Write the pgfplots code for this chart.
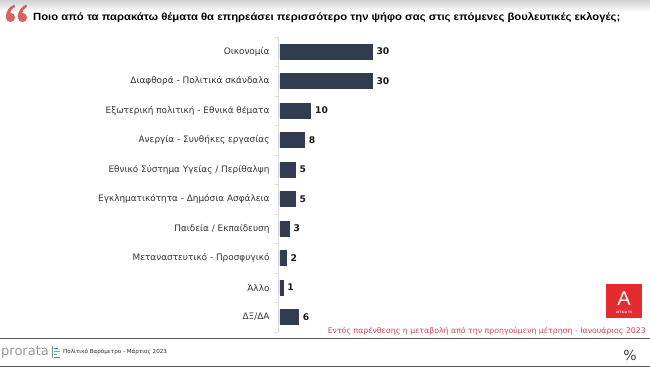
\documentclass[border=0pt]{standalone}
\usepackage{pgfplots}
\pgfplotsset{compat=1.18}
\usepackage{fontspec}
\setmainfont{DejaVu Sans}
\newfontfamily\titlefont{Liberation Sans}
\newfontfamily\lbl{DejaVu Sans}
\definecolor{barc}{HTML}{323C50}
\definecolor{quotec}{HTML}{D9645F}
\definecolor{redt}{HTML}{D14654}
\definecolor{logored}{HTML}{E42B30}
\begin{document}
\begin{tikzpicture}[x=1pt,y=1pt]
\path[use as bounding box] (0,0) rectangle (650,368);
\shade[top color=black!18,bottom color=white] (0,368) rectangle (650,356);
% quote mark (two "6" shapes)
\foreach \cx in {10.5,22.5}{
  \fill[quotec] (\cx,350.5) circle (4.6);
  \fill[quotec] (\cx-4.6,350.5) .. controls (\cx-4.8,357) and (\cx-1,361.5) .. (\cx+3.8,363.5)
     -- (\cx+4.4,361.2) .. controls (\cx+1.5,359.5) and (\cx-0.5,357) .. (\cx-0.2,353) -- cycle;
}
% title
\node[anchor=west,inner sep=0pt,font=\titlefont\bfseries\fontsize{10.4}{12}\selectfont] at (33,350.5) {\resizebox{587pt}{\height}{Ποιο από τα παρακάτω θέματα θα επηρεάσει περισσότερο την ψήφο σας στις επόμενες βουλευτικές εκλογές;}};
\begin{axis}[
  at={(278pt,36.25pt)}, anchor=south west,
  scale only axis, width=94pt, height=295pt,
  xbar, bar width=15pt,
  xmin=-0.6, xmax=30,
  ymin=-0.5, ymax=9.5, y dir=reverse,
  axis x line=none,
  axis y line*=left,
  y axis line style={draw=black!15},
  ytick={0,...,9},
  yticklabels={Οικονομία,Διαφθορά - Πολιτικά σκάνδαλα,Εξωτερική πολιτική - Εθνικά θέματα,Ανεργία - Συνθήκες εργασίας,Εθνικό Σύστημα Υγείας / Περίθαλψη,Εγκληματικότητα - Δημόσια Ασφάλεια,Παιδεία / Εκπαίδευση,Μεταναστευτικό - Προσφυγικό,Άλλο,ΔΞ/ΔΑ},
  major tick length=0pt,
  minor ytick={-0.5,0.5,...,9.5},
  minor tick length=3pt,
  minor tick style={draw=black!15},
  tick align=outside,
  yticklabel style={font=\lbl\fontsize{8.9}{10}\selectfont, text=black!80, xshift=-5pt},
  /pgf/number format/assume math mode=true,
  nodes near coords,
  nodes near coords style={font=\lbl\bfseries\fontsize{9.2}{10}\selectfont, text=black!90, xshift=1pt},
  clip=false,
]
\addplot[fill=barc, draw=barc] coordinates {(30,0) (30,1) (10,2) (8,3) (5,4) (5,5) (3,6) (2,7) (1,8) (6,9)};
\end{axis}
% footnote
\node[anchor=east,inner sep=0pt,text=redt,font=\lbl\fontsize{7.8}{9}\selectfont] at (646,37) {Εντός παρένθεσης η μεταβολή από την προηγούμενη μέτρηση - Ιανουάριος 2023};
% logo
\fill[logored] (606,50) rectangle (642,84);
\node[text=white,inner sep=0pt,font=\titlefont\fontsize{20}{20}\selectfont] at (624,69.5) {Α};
\node[text=white,inner sep=0pt,font=\titlefont\bfseries\fontsize{3.2}{4}\selectfont] at (624,56) {ATTICA TV};
% footer lines
\draw[black!65,line width=0.9pt] (0,30) -- (650,30);
\draw[black!65,line width=0.9pt] (0,2) -- (650,2);
\node[anchor=west,inner sep=0pt,text=black!40,font=\lbl\fontsize{13}{13}\selectfont] at (1,16) {prorata};
\draw[black!45,line width=0.6pt] (52,10) -- (52,22);
\draw[cyan!70!blue,line width=1pt] (54,20) -- (58,20);
\draw[magenta!60,line width=1pt] (54,17) -- (60,17);
\draw[teal!70,line width=1pt] (54,14) -- (57,14);
\draw[blue!60,line width=1pt] (54,11) -- (60,11);
\node[anchor=west,inner sep=0pt,font=\lbl\fontsize{5.6}{7}\selectfont,text=black!85] at (63,16) {Πολιτικό Βαρόμετρο - Μάρτιος 2023};
\node[inner sep=0pt,font=\lbl\fontsize{14}{14}\selectfont,text=black!75] at (630,13) {\%};
\end{tikzpicture}
\end{document}
